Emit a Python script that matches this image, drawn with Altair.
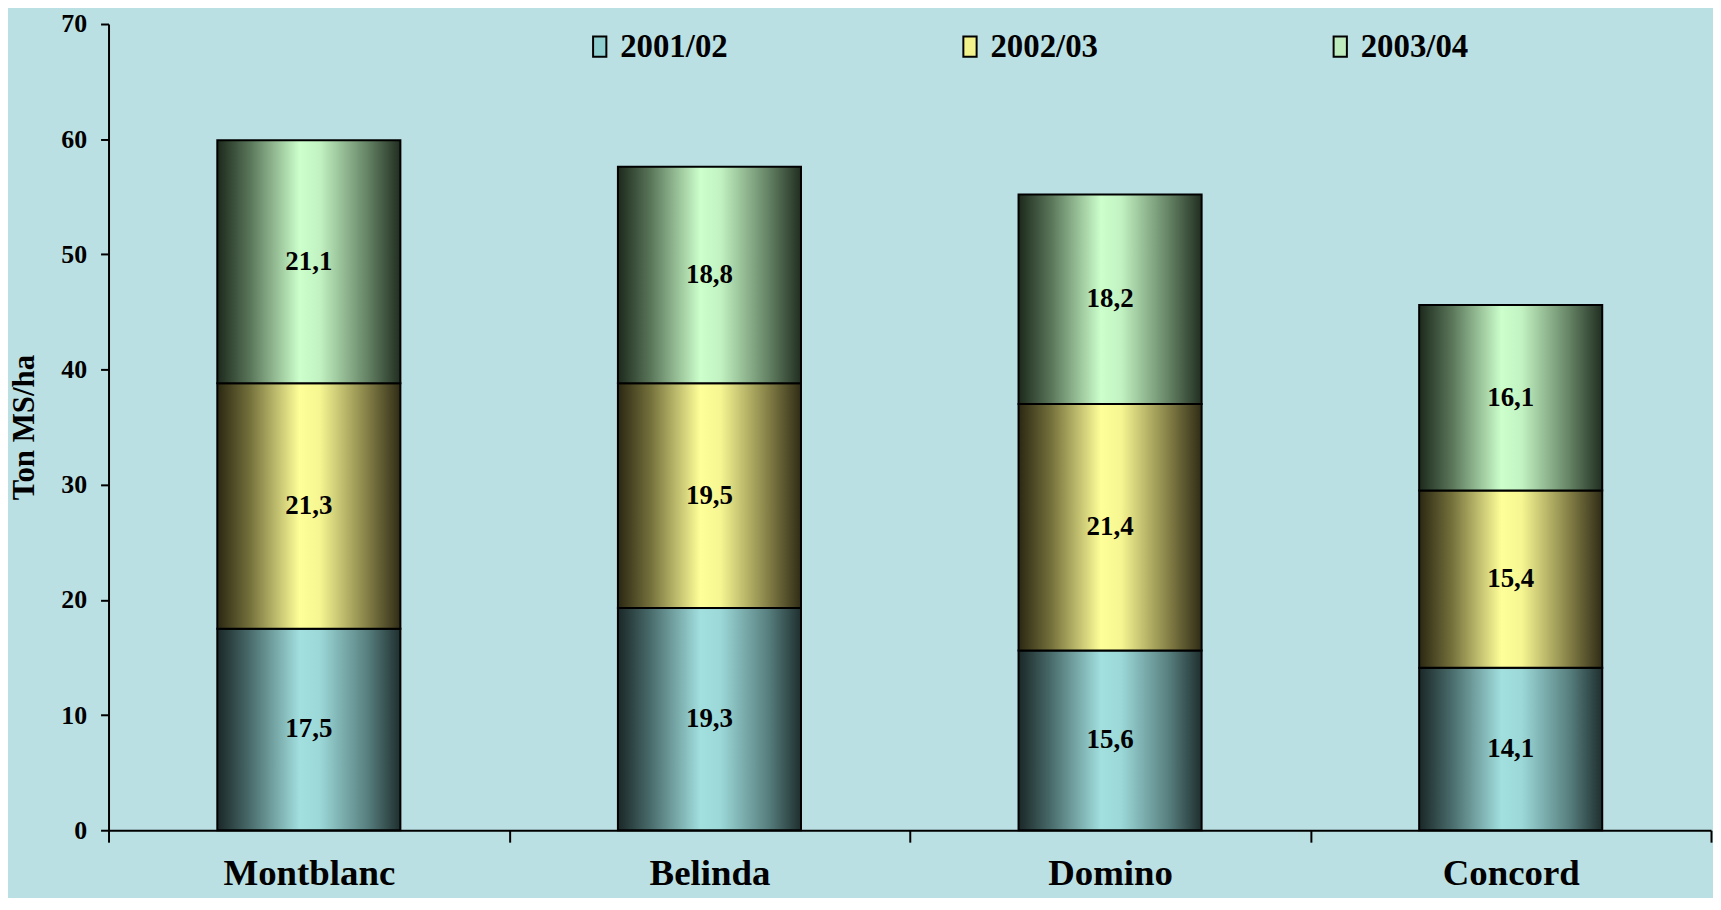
import altair as alt
import pandas as pd

varieties = ["Montblanc", "Belinda", "Domino", "Concord"]
seasons = ["2001/02", "2002/03", "2003/04"]
v2001_02 = [17.5, 19.3, 15.6, 14.1]
v2002_03 = [21.3, 19.5, 21.4, 15.4]
v2003_04 = [21.1, 18.8, 18.2, 16.1]
y_ticks = [0, 10, 20, 30, 40, 50, 60, 70]

series_values = [v2001_02, v2002_03, v2003_04]
rows = []
for si, (s, vals) in enumerate(zip(seasons, series_values)):
    for v, val in zip(varieties, vals):
        rows.append({"variety": v, "series": s, "order": si, "value": val})
df = pd.DataFrame(rows)

FONT = "Liberation Serif"
BG = "#BBE0E3"


def grad(edge_l, mid_l, peak, peak2, mid_r, edge_r):
    return alt.LinearGradient(
        gradient="linear", x1=0, x2=1, y1=0, y2=0,
        stops=[
            alt.GradientStop(color=edge_l, offset=0),
            alt.GradientStop(color=mid_l, offset=0.18),
            alt.GradientStop(color=peak, offset=0.45),
            alt.GradientStop(color=peak2, offset=0.56),
            alt.GradientStop(color=mid_r, offset=0.82),
            alt.GradientStop(color=edge_r, offset=1),
        ],
    )


gradients = [
    grad("#1a2727", "#4a6c6c", "#a2dfdf", "#9cd8d8", "#587f7f", "#1f2f2f"),
    grad("#2a2712", "#75713c", "#ffff99", "#f6f692", "#847f46", "#302c16"),
    grad("#1c291c", "#5a765a", "#ccffcc", "#c2f2c2", "#658365", "#212e21"),
]
legend_colors = ["#8fcfcf", "#f2f28c", "#bdebbd"]

x_enc = alt.X(
    "variety:N",
    sort=varieties,
    scale=alt.Scale(paddingInner=0, paddingOuter=0),
    axis=alt.Axis(
        title=None, labelAngle=0, tickBand="extent", tickSize=12,
        labelFontSize=37, labelPadding=14, labelFont=FONT, labelFontWeight="bold",
    ),
)


def y_enc(field):
    return alt.Y(
        field,
        scale=alt.Scale(domain=[0, 70], nice=False),
        axis=alt.Axis(
            values=y_ticks, title="Ton MS/ha", tickSize=8, labelPadding=14,
            labelFontSize=26, labelFont=FONT, labelFontWeight="bold",
            titleFont=FONT, titleFontSize=31, titleFontWeight="bold",
            titlePadding=20, grid=False,
        ),
    )


base = (
    alt.Chart(df)
    .transform_stack(stack="value", groupby=["variety"], as_=["y0", "y1"],
                     sort=[alt.SortField("order")])
    .transform_calculate(
        mid="(datum.y0 + datum.y1) / 2",
        label="replace(format(datum.value, '.1f'), '.', ',')",
    )
)

layers = []
for s, g in zip(seasons, gradients):
    layers.append(
        base.transform_filter(alt.datum.series == s)
        .mark_bar(fill=g, stroke="black", strokeWidth=2,
                  width=alt.RelativeBandSize(0.457))
        .encode(x=x_enc, y=y_enc("y0:Q"), y2="y1:Q")
    )

text = base.mark_text(
    font=FONT, fontWeight="bold", fontSize=27, color="black", baseline="middle"
).encode(x=x_enc, y=y_enc("mid:Q"), text="label:N")

legend_layer = base.mark_square(opacity=0, filled=True).encode(
    x=x_enc,
    y=y_enc("mid:Q"),
    color=alt.Color(
        "series:N",
        scale=alt.Scale(domain=seasons, range=legend_colors),
        legend=alt.Legend(
            orient="none", legendX=477, legendY=6, direction="horizontal",
            title=None, labelFont=FONT, labelFontSize=33, labelFontWeight="bold",
            labelColor="black", labelOffset=4, columnPadding=226, padding=0,
            symbolType="M-0.65,-1H0.65V1H-0.65Z", symbolSize=420,
            symbolStrokeColor="black", symbolStrokeWidth=2, symbolOpacity=1,
        ),
    ),
)

chart = (
    alt.layer(*layers, text, legend_layer)
    .properties(
        width=1610, height=810, background=BG, autosize="none",
        padding={"left": 101, "top": 14, "right": 2, "bottom": 66},
    )
    .configure_view(stroke=None)
    .configure_axis(
        domainColor="black", domainWidth=2, tickColor="black", tickWidth=2,
        labelColor="black", titleColor="black",
    )
)

chart.save("out.html", embed_options={"renderer": "svg", "actions": False})
